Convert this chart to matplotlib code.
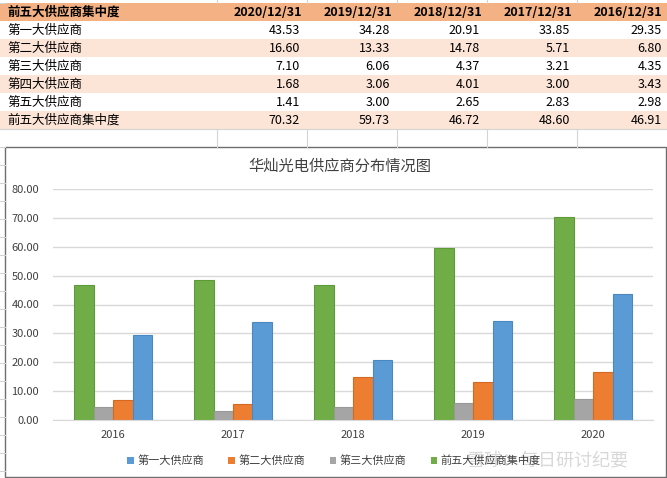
import numpy as np
import matplotlib.pyplot as plt
from matplotlib.patches import Rectangle, Patch

plt.rcParams['font.family'] = ['Noto Sans CJK SC', 'DejaVu Sans']

# 表格数据
dates = ['2020/12/31', '2019/12/31', '2018/12/31', '2017/12/31', '2016/12/31']
row_labels = ['第一大供应商', '第二大供应商', '第三大供应商', '第四大供应商', '第五大供应商', '前五大供应商集中度']
first = [43.53, 34.28, 20.91, 33.85, 29.35]
second = [16.60, 13.33, 14.78, 5.71, 6.80]
third = [7.10, 6.06, 4.37, 3.21, 4.35]
fourth = [1.68, 3.06, 4.01, 3.00, 3.43]
fifth = [1.41, 3.00, 2.65, 2.83, 2.98]
top5 = [70.32, 59.73, 46.72, 48.60, 46.91]
table_rows = [first, second, third, fourth, fifth, top5]

# 图表数据 (按年份从早到晚)
years = ['2016', '2017', '2018', '2019', '2020']
series_names = ['第一大供应商', '第二大供应商', '第三大供应商', '前五大供应商集中度']

W, H = 667, 478
fig = plt.figure(figsize=(W / 100, H / 100), dpi=100)
bg = fig.add_axes([0, 0, 1, 1])
bg.set_xlim(0, W)
bg.set_ylim(H, 0)
bg.axis('off')

# 电子表格网格线
grid_c = '#D4D4D4'
col_edges = [217, 307, 397, 487, 577]
for x in col_edges:
    bg.plot([x, x], [0, 3], color=grid_c, lw=0.8)
    bg.plot([x, x], [129, 147], color=grid_c, lw=0.8)
for y in [3, 129, 147, 165, 183, 201, 219, 237, 255, 273, 291, 309, 327, 345, 363, 381, 399, 417, 435, 453, 471]:
    bg.plot([0, 5], [y, y], color=grid_c, lw=0.8)
bg.plot([0, W], [129, 129], color=grid_c, lw=0.8)

# 表头
row_h = 18
bg.add_patch(Rectangle((0, 3), W, row_h, facecolor='#F4B183', edgecolor='none'))
bg.text(7, 3 + row_h / 2, '前五大供应商集中度', fontsize=9, fontweight='bold', va='center', ha='left')
for i, d in enumerate(dates):
    bg.text(col_edges[i] + 85 if i < 4 else 662, 3 + row_h / 2, d,
            fontsize=9, fontweight='bold', va='center', ha='right')

for r, (lab, vals) in enumerate(zip(row_labels, table_rows)):
    y0 = 21 + r * row_h
    if r % 2 == 1:
        bg.add_patch(Rectangle((0, y0), W, row_h, facecolor='#FCE4D6', edgecolor='none'))
    bg.text(7, y0 + row_h / 2, lab, fontsize=9, va='center', ha='left')
    for i, v in enumerate(vals):
        xr = col_edges[i] + 83 if i < 4 else 662
        bg.text(xr, y0 + row_h / 2, f'{v:.2f}', fontsize=9, va='center', ha='right')

# 图表外框
bg.add_patch(Rectangle((5, 147), 661, 330, facecolor='white', edgecolor='#6E6E6E', lw=1.0))
bg.text(340, 166, '华灿光电供应商分布情况图', fontsize=11, ha='center', va='center', color='#404040')

# 柱状图
ax = fig.add_axes([53 / W, 1 - 420 / H, 600 / W, (420 - 189) / H])
ax.set_zorder(2)
ax.patch.set_alpha(0)

chart_first = first[::-1]
chart_second = second[::-1]
chart_third = third[::-1]
chart_top5 = top5[::-1]

x = np.arange(len(years))
w = 0.1625
ax.bar(x - 1.5 * w, chart_top5, w, color='#70AD47', edgecolor='#5E9A38', lw=0.8)
ax.bar(x - 0.5 * w, chart_third, w, color='#A5A5A5', edgecolor='#989898', lw=0.8)
ax.bar(x + 0.5 * w, chart_second, w, color='#ED7D31', edgecolor='#D46A22', lw=0.8)
ax.bar(x + 1.5 * w, chart_first, w, color='#5B9BD5', edgecolor='#4A88C2', lw=0.8)

ax.set_xlim(-0.5, len(years) - 0.5)
ax.set_ylim(0, 80)
ax.set_yticks(np.arange(0, 81, 10))
ax.set_yticklabels([f'{v:.2f}' for v in np.arange(0, 81, 10)], fontsize=8, color='#404040')
ax.set_xticks(x)
ax.set_xticklabels(years, fontsize=8, color='#404040')
ax.tick_params(axis='y', length=0, pad=10)
ax.tick_params(axis='x', length=0, pad=7)
ax.yaxis.grid(True, color='#D9D9D9', lw=1.0)
ax.set_axisbelow(True)
for s in ['top', 'right', 'left']:
    ax.spines[s].set_visible(False)
ax.spines['bottom'].set_color('#D9D9D9')

handles = [Patch(facecolor='#5B9BD5'), Patch(facecolor='#ED7D31'),
           Patch(facecolor='#A5A5A5'), Patch(facecolor='#70AD47')]
fig.legend(handles, series_names, loc='center', bbox_to_anchor=(334 / W, 1 - 461 / H),
           ncol=4, frameon=False, fontsize=8, handlelength=0.6, handleheight=0.6,
           handletextpad=0.3, columnspacing=2.2, labelcolor='#404040')

# 水印
bg.text(548, 461, '雪球：每日研讨纪要', fontsize=13, color='#B8B8B8', alpha=0.55,
        ha='center', va='center', zorder=10)

fig.savefig('out.png', dpi=100)
